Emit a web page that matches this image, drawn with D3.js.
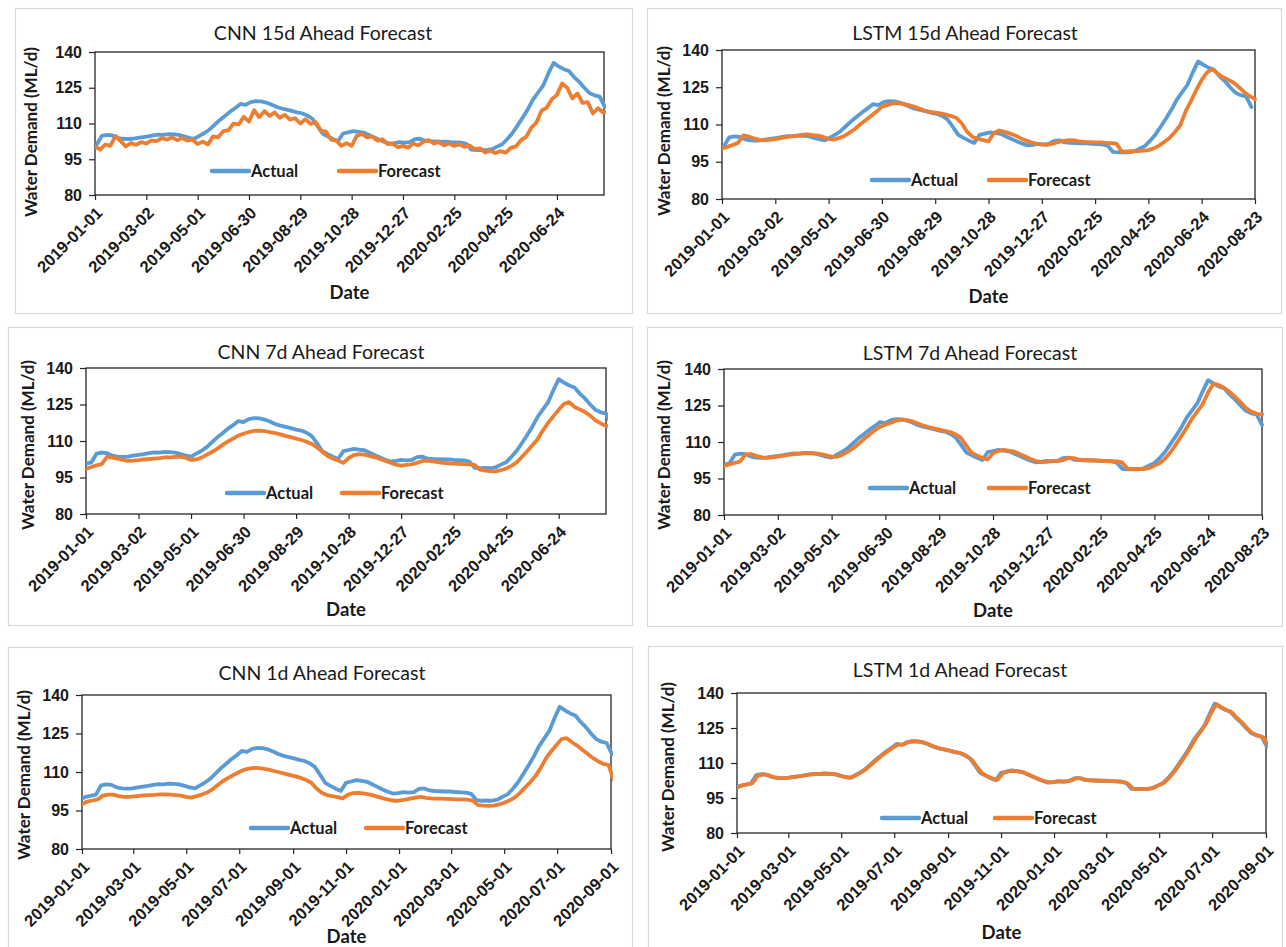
<!DOCTYPE html>
<html>
<head>
<meta charset="utf-8">
<script src="https://cdn.jsdelivr.net/npm/d3@7"></script>
<style>
  body { margin: 0; background: #ffffff; }
  svg { display: block; font-family: Lato, "Open Sans", "Liberation Sans", sans-serif; }
</style>
</head>
<body>
<svg id="chart" width="1286" height="947"></svg>
<script>
// ---- Data -------------------------------------------------------------
// Daily water demand, sampled every STEP_DAYS days.
const STEP_DAYS = 6;
const yTicks = [80, 95, 110, 125, 140];
const ticks60 = ["2019-01-01", "2019-03-02", "2019-05-01", "2019-06-30", "2019-08-29",
                 "2019-10-28", "2019-12-27", "2020-02-25", "2020-04-25", "2020-06-24"];
const ticks60Long = ticks60.concat(["2020-08-23"]);
const ticksMonthly = ["2019-01-01", "2019-03-01", "2019-05-01", "2019-07-01", "2019-09-01", "2019-11-01",
                      "2020-01-01", "2020-03-01", "2020-05-01", "2020-07-01", "2020-09-01"];
const seriesNames = ["Actual", "Forecast"];

// Observed demand (ML/d)
const actualDemand = [
  99.3, 100.3, 100.7, 101.2, 104.8, 105.2, 105.0, 104.0, 103.6, 103.5,
  103.6, 104.0, 104.3, 104.6, 105.0, 105.3, 105.2, 105.5, 105.4, 105.2,
  104.6, 104.0, 103.6, 104.8, 106.0, 107.5, 109.5, 111.5, 113.2, 115.0,
  116.5, 118.2, 117.8, 119.0, 119.4, 119.3, 118.8, 118.0, 117.0, 116.3,
  115.8, 115.3, 114.7, 114.3, 113.4, 112.0, 109.0, 105.8, 104.6, 103.5,
  102.6, 105.8, 106.3, 106.8, 106.5, 106.2, 105.2, 104.2, 103.2, 102.3,
  101.6, 101.8, 102.2, 102.0, 102.2, 103.4, 103.6, 102.8, 102.6, 102.5,
  102.4, 102.4, 102.2, 102.1, 102.0, 101.5, 99.0, 98.8, 98.9, 98.8,
  99.2, 100.3, 101.3, 103.5, 106.0, 109.2, 112.5, 116.0, 120.0, 123.0,
  126.0, 131.0, 135.4, 134.0, 132.8, 132.0, 129.5, 127.5, 125.0, 122.8,
  121.8, 121.3, 117.0
];

// Model forecasts (ML/d)
const cnn15Forecast = [
  100.4, 99.0, 101.2, 100.6, 104.8, 102.6, 100.4, 101.8, 101.0, 102.2,
  101.6, 102.9, 102.6, 103.9, 103.2, 104.2, 103.0, 103.9, 102.8, 103.2,
  101.4, 102.4, 101.2, 104.6, 104.2, 106.8, 107.2, 110.0, 109.6, 112.8,
  110.8, 115.6, 112.6, 115.2, 113.2, 114.6, 112.4, 113.6, 111.6, 112.2,
  110.0, 111.8, 109.8, 110.6, 107.0, 106.6, 103.2, 102.8, 100.6, 101.8,
  100.6, 104.8, 105.6, 104.2, 104.6, 102.8, 103.4, 101.4, 101.6, 100.0,
  100.6, 99.8, 101.6, 100.8, 102.4, 103.0, 101.6, 102.2, 100.8, 101.6,
  100.6, 101.2, 100.2, 100.8, 99.2, 99.6, 97.8, 98.6, 97.6, 98.4,
  97.8, 99.8, 100.4, 103.0, 104.4, 108.2, 110.4, 115.4, 116.6, 120.2,
  122.0, 126.8, 125.0, 120.5, 122.6, 118.6, 119.0, 114.2, 116.4, 114.6,
  115.0
];
const lstm15Forecast = [
  100.4, 101.0, 101.7, 102.6, 105.6, 105.2, 104.4, 103.8, 103.7, 103.8,
  104.1, 104.5, 104.9, 105.2, 105.5, 105.8, 106.0, 105.7, 105.5, 105.0,
  104.2, 103.9, 104.6, 105.4, 106.8, 108.3, 110.2, 111.8, 113.5, 115.2,
  117.2, 117.8, 118.5, 118.6, 118.3, 117.8, 117.2, 116.4, 115.6, 115.1,
  114.8, 114.5, 114.0, 113.4, 112.6, 110.4, 107.0, 105.0, 104.2, 103.7,
  103.2, 106.6, 107.6, 107.0, 106.4, 105.6, 104.5, 103.6, 102.8, 102.3,
  101.9, 101.8, 102.3, 102.9, 103.3, 103.7, 103.6, 103.2, 103.0, 102.9,
  102.8, 102.8, 102.6, 102.5, 102.3, 99.1, 99.2, 99.3, 99.3, 99.5,
  99.7, 100.4, 101.5, 103.0, 104.7, 107.0, 109.8, 115.4, 119.5, 124.0,
  128.0, 131.0, 132.3, 130.5, 129.0, 128.0, 126.8, 125.0, 123.0, 121.4,
  120.2
];
const cnn7Forecast = [
  98.5, 99.3, 100.0, 100.5, 103.5, 103.2, 102.8, 102.2, 101.8, 101.9,
  102.1, 102.4, 102.6, 102.8, 103.0, 103.3, 103.3, 103.5, 103.6, 103.0,
  102.2, 102.4, 103.2, 104.4, 105.5, 106.8, 108.4, 109.8, 111.0, 112.2,
  113.0, 113.7, 114.2, 114.3, 114.1, 113.6, 113.2, 112.7, 112.1, 111.6,
  111.0, 110.4, 109.7, 108.8, 107.4, 105.6, 103.8, 102.8, 102.0, 101.0,
  103.0, 104.2, 104.6, 104.4, 103.9, 103.3, 102.6, 101.8, 101.1, 100.3,
  99.9, 100.2, 100.4, 101.0, 101.8, 101.9, 101.6, 101.3, 101.0, 100.8,
  100.7, 100.6, 100.5, 100.4, 100.2, 98.2, 97.8, 97.6, 97.5, 98.0,
  98.7, 99.8, 101.2, 103.5, 105.8, 108.3, 110.8, 114.4, 117.5, 120.2,
  122.8, 125.2, 126.0, 124.0, 123.0, 121.9, 120.4, 118.5, 117.2, 116.3,
  116.0
];
const lstm7Forecast = [
  100.2, 100.8, 101.4, 102.0, 104.9, 105.0, 104.3, 103.7, 103.6, 103.7,
  104.0, 104.4, 104.7, 105.0, 105.2, 105.3, 105.4, 105.3, 105.0, 104.5,
  104.0, 103.9, 104.8, 106.0, 107.4, 109.2, 111.2, 113.0, 114.8, 116.2,
  117.2, 117.8, 118.8, 119.2, 119.0, 118.5, 117.6, 116.8, 116.1, 115.6,
  115.1, 114.6, 114.1, 113.2, 111.8, 108.6, 105.6, 104.5, 103.4, 102.8,
  105.4, 106.4, 106.8, 106.4, 106.0, 105.0, 104.0, 103.0, 102.2, 101.7,
  101.8, 102.1, 102.1, 102.5, 103.5, 103.4, 102.8, 102.6, 102.5, 102.4,
  102.3, 102.2, 102.1, 102.0, 101.6, 99.0, 98.9, 98.9, 98.9, 99.3,
  100.2, 101.3, 103.2, 105.8, 109.0, 112.4, 115.8, 119.6, 122.6, 125.6,
  130.4, 134.0, 133.4, 132.2, 130.5, 128.6, 126.4, 124.0, 122.5, 121.6,
  121.3
];
const cnn1Forecast = [
  97.4, 98.5, 98.9, 99.3, 100.8, 101.2, 101.2, 100.6, 100.3, 100.3,
  100.5, 100.7, 100.9, 101.0, 101.1, 101.3, 101.3, 101.2, 101.0, 100.8,
  100.3, 100.0, 100.6, 101.2, 102.0, 103.2, 104.8, 106.4, 107.6, 108.8,
  109.8, 110.8, 111.3, 111.6, 111.5, 111.2, 110.8, 110.3, 109.8, 109.3,
  108.8, 108.3, 107.7, 106.9, 105.8, 103.6, 101.9, 101.0, 100.6, 100.2,
  99.7, 101.1, 101.8, 101.9, 101.7, 101.3, 100.8, 100.2, 99.6, 99.1,
  98.8, 98.9, 99.2, 99.6, 100.0, 100.3, 99.9, 99.7, 99.6, 99.6,
  99.5, 99.4, 99.3, 99.3, 99.2, 98.8, 97.1, 96.9, 96.8, 96.9,
  97.4, 98.0, 98.9, 100.0, 101.8, 103.9, 106.0, 108.4, 111.5, 115.2,
  118.0, 120.4, 122.8, 123.2, 121.6, 120.3, 118.7, 117.1, 115.5, 114.2,
  113.2, 112.8, 107.0
];
const lstm1Forecast = [
  99.5, 100.4, 100.8, 101.5, 104.6, 105.1, 104.8, 103.9, 103.6, 103.5,
  103.7, 104.0, 104.4, 104.7, 105.0, 105.2, 105.3, 105.4, 105.3, 105.1,
  104.5, 103.9, 103.7, 104.9, 106.2, 107.8, 109.8, 111.7, 113.5, 115.2,
  116.7, 117.9, 118.0, 119.0, 119.3, 119.2, 118.7, 117.8, 116.9, 116.2,
  115.7, 115.2, 114.7, 114.1, 113.1, 111.5, 108.5, 105.6, 104.4, 103.4,
  102.8, 105.6, 106.4, 106.6, 106.4, 106.0, 105.0, 104.0, 103.0, 102.2,
  101.7, 101.9, 102.1, 102.0, 102.4, 103.4, 103.4, 102.8, 102.6, 102.5,
  102.4, 102.3, 102.2, 102.1, 101.9, 101.2, 99.0, 98.8, 98.9, 98.9,
  99.4, 100.5, 101.6, 103.9, 106.5, 109.7, 113.0, 116.6, 120.4, 123.5,
  126.8, 131.6, 135.2, 133.8, 132.6, 131.6, 129.2, 127.2, 124.6, 122.6,
  121.7, 121.0, 117.2
];

// ---- Panel layout -------------------------------------------------------
const COLORS = { actual: "#5b9bd5", forecast: "#ed7d31" };

const panels = [
  { title: "CNN 15d Ahead Forecast", forecast: cnn15Forecast,
    actualStart: "2018-12-16", forecastStart: "2019-01-01",
    domain: ["2019-01-01", "2020-08-18"], ticks: ticks60,
    frame: [15, 8, 632, 313], plot: [95, 52, 604, 195],
    titleX: 323, titleY: 33, yLabelX: 31, yLabelY: 132, dateY: 293,
    legendY: 171, legendA: 212, legendF: 339 },
  { title: "LSTM 15d Ahead Forecast", forecast: lstm15Forecast,
    actualStart: "2018-12-16", forecastStart: "2019-01-01",
    domain: ["2019-01-01", "2020-08-23"], ticks: ticks60Long,
    frame: [647, 8, 1281, 313], plot: [722, 50, 1255, 199],
    titleX: 965, titleY: 33, yLabelX: 664, yLabelY: 131, dateY: 297,
    legendY: 180, legendA: 872, legendF: 989 },
  { title: "CNN 7d Ahead Forecast", forecast: cnn7Forecast,
    actualStart: "2018-12-20", forecastStart: "2019-01-01",
    domain: ["2019-01-01", "2020-08-17"], ticks: ticks60,
    frame: [8, 327, 632, 625], plot: [86, 368, 606, 514],
    titleX: 321, titleY: 352, yLabelX: 28, yLabelY: 445, dateY: 610,
    legendY: 493, legendA: 227, legendF: 342 },
  { title: "LSTM 7d Ahead Forecast", forecast: lstm7Forecast,
    actualStart: "2018-12-20", forecastStart: "2019-01-01",
    domain: ["2019-01-01", "2020-08-23"], ticks: ticks60Long,
    frame: [647, 327, 1282, 626], plot: [724, 369, 1262, 515],
    titleX: 970, titleY: 353, yLabelX: 664, yLabelY: 445, dateY: 611,
    legendY: 488, legendA: 870, legendF: 989 },
  { title: "CNN 1d Ahead Forecast", forecast: cnn1Forecast,
    actualStart: "2018-12-30", forecastStart: "2019-01-01",
    domain: ["2019-01-01", "2020-09-01"], ticks: ticksMonthly,
    frame: [8, 647, 632, 960], plot: [82, 695, 611, 849],
    titleX: 322, titleY: 673, yLabelX: 24, yLabelY: 775, dateY: 937,
    legendY: 828, legendA: 251, legendF: 366 },
  { title: "LSTM 1d Ahead Forecast", forecast: lstm1Forecast,
    actualStart: "2018-12-30", forecastStart: "2019-01-01",
    domain: ["2019-01-01", "2020-09-01"], ticks: ticksMonthly,
    frame: [648, 646, 1282, 960], plot: [737, 693, 1266, 833],
    titleX: 960, titleY: 670, yLabelX: 668, yLabelY: 767, dateY: 933,
    legendY: 818, legendA: 882, legendF: 995 }
];

// ---- Drawing ------------------------------------------------------------
const parseDate = d3.utcParse("%Y-%m-%d");
const formatDate = d3.utcFormat("%Y-%m-%d");
const TEXT = "#1a1a1a";

function toPoints(values, start) {
  const t0 = parseDate(start);
  return values.map((v, i) => ({ date: d3.utcDay.offset(t0, i * STEP_DAYS), value: v }));
}

const svg = d3.select("#chart");
svg.append("rect").attr("width", 1286).attr("height", 947).attr("fill", "#ffffff");

panels.forEach((p, idx) => {
  const g = svg.append("g").attr("class", "panel");
  const [fx0, fy0, fx1, fy1] = p.frame;
  const [px0, py0, px1, py1] = p.plot;

  // chart frame
  g.append("rect")
    .attr("x", fx0 + 0.5).attr("y", fy0 + 0.5)
    .attr("width", fx1 - fx0).attr("height", fy1 - fy0)
    .attr("fill", "#ffffff").attr("stroke", "#d9d9d9").attr("stroke-width", 1.2);

  const x = d3.scaleUtc().domain(p.domain.map(parseDate)).range([px0, px1]);
  const y = d3.scaleLinear().domain([80, 140]).range([py1, py0]);

  // title
  g.append("text")
    .attr("x", p.titleX).attr("y", p.titleY).attr("dy", "0.35em")
    .attr("text-anchor", "middle")
    .attr("font-size", 19.5).attr("font-weight", 400).attr("fill", TEXT)
    .text(p.title);

  // y axis
  const yAxis = d3.axisLeft(y).tickValues(yTicks).tickSize(6).tickSizeOuter(0).tickPadding(7);
  const yg = g.append("g").attr("transform", `translate(${px0},0)`).call(yAxis);
  yg.select(".domain").remove();
  yg.selectAll(".tick line").attr("stroke", "#262626").attr("stroke-width", 1.2);
  yg.selectAll(".tick text")
    .attr("font-family", null).attr("font-size", 16).attr("font-weight", 700).attr("fill", TEXT);

  // x axis with diagonal date labels
  const xAxis = d3.axisBottom(x)
    .tickValues(p.ticks.map(parseDate)).tickFormat(formatDate)
    .tickSize(5).tickSizeOuter(0);
  const xg = g.append("g").attr("transform", `translate(0,${py1})`).call(xAxis);
  xg.select(".domain").remove();
  xg.selectAll(".tick line").attr("stroke", "#262626").attr("stroke-width", 1.2);
  xg.selectAll(".tick text")
    .attr("font-family", null).attr("font-size", 16.5).attr("font-weight", 700).attr("fill", TEXT)
    .attr("x", 0).attr("y", 0).attr("dy", "0.35em")
    .attr("text-anchor", "end")
    .attr("transform", "translate(4,15) rotate(-45)");

  // plot area border
  g.append("rect")
    .attr("x", px0).attr("y", py0).attr("width", px1 - px0).attr("height", py1 - py0)
    .attr("fill", "none").attr("stroke", "#262626").attr("stroke-width", 1.3);

  // axis titles
  g.append("text")
    .attr("transform", `translate(${p.yLabelX},${p.yLabelY}) rotate(-90)`)
    .attr("dy", "0.35em").attr("text-anchor", "middle")
    .attr("font-size", 17).attr("font-weight", 700).attr("fill", TEXT)
    .text("Water Demand (ML/d)");
  g.append("text")
    .attr("x", (px0 + px1) / 2).attr("y", p.dateY).attr("dy", "0.35em")
    .attr("text-anchor", "middle")
    .attr("font-size", 18.5).attr("font-weight", 700).attr("fill", TEXT)
    .text("Date");

  // series lines
  const clipId = "plot-clip-" + idx;
  g.append("clipPath").attr("id", clipId)
    .append("rect").attr("x", px0).attr("y", py0 - 4).attr("width", px1 - px0 + 2).attr("height", py1 - py0 + 8);

  const line = d3.line()
    .defined(d => d.value != null)
    .x(d => x(d.date)).y(d => y(d.value));

  const lines = g.append("g").attr("clip-path", `url(#${clipId})`);
  const series = [
    { key: "actual", points: toPoints(actualDemand, p.actualStart) },
    { key: "forecast", points: toPoints(p.forecast, p.forecastStart) }
  ];
  lines.selectAll("path").data(series).join("path")
    .attr("d", s => line(s.points))
    .attr("fill", "none")
    .attr("stroke", s => COLORS[s.key])
    .attr("stroke-width", 3.8)
    .attr("stroke-linejoin", "round")
    .attr("stroke-linecap", "round");

  // legend
  const legend = g.append("g").attr("class", "legend");
  [[p.legendA, "actual", seriesNames[0]], [p.legendF, "forecast", seriesNames[1]]].forEach(([lx, key, name]) => {
    legend.append("line")
      .attr("x1", lx).attr("x2", lx + 37).attr("y1", p.legendY).attr("y2", p.legendY)
      .attr("stroke", COLORS[key]).attr("stroke-width", 4.5).attr("stroke-linecap", "round");
    legend.append("text")
      .attr("x", lx + 39).attr("y", p.legendY).attr("dy", "0.35em")
      .attr("font-size", 16.5).attr("font-weight", 700).attr("fill", TEXT)
      .text(name);
  });
});
</script>
</body>
</html>
